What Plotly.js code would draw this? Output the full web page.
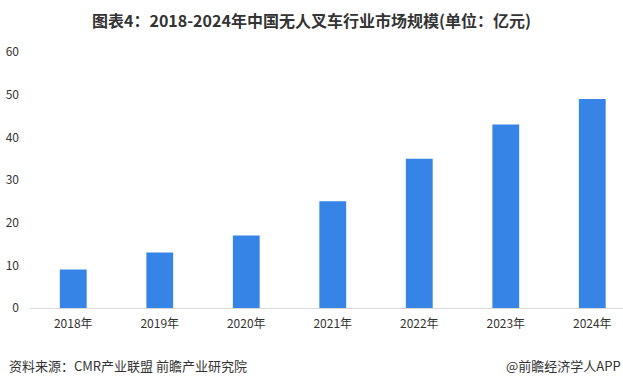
<!DOCTYPE html>
<html>
<head>
<meta charset="utf-8">
<script src="https://cdn.plot.ly/plotly-3.0.1.min.js"></script>
<style>html,body{margin:0;padding:0;background:#fff;}#chart{width:623px;height:386px;}</style>
</head>
<body>
<div id="chart"></div>
<script>
var categories = ["2018年", "2019年", "2020年", "2021年", "2022年", "2023年", "2024年"];
var marketSize = [9, 13, 17, 25, 35, 43, 49];
var yTicks = [0, 10, 20, 30, 40, 50, 60];

var FONT = '"Noto Sans CJK SC", "Microsoft YaHei", sans-serif';

var trace = {
  type: 'bar',
  x: categories,
  y: marketSize,
  marker: {color: '#3584E6'},
  hoverinfo: 'none'
};

var layout = {
  width: 623,
  height: 386,
  margin: {l: 30, r: 0, t: 52, b: 78},
  paper_bgcolor: '#ffffff',
  plot_bgcolor: '#ffffff',
  showlegend: false,
  bargap: 0.69,
  title: {
    text: '<b>图表4：2018-2024年中国无人叉车行业市场规模(单位：亿元)</b>',
    font: {family: FONT, size: 16, color: '#333333'},
    x: 311.5/623, xanchor: 'center', xref: 'container',
    y: 1 - 21/386, yanchor: 'middle', yref: 'container'
  },
  xaxis: {
    type: 'category',
    range: [-0.5, 6.355],
    showline: true, linecolor: '#d9d9d9', linewidth: 1,
    showgrid: false, zeroline: false, ticks: '',
    tickfont: {family: FONT, size: 12, color: '#333333'},
    ticklabelstandoff: 5,
    fixedrange: true
  },
  yaxis: {
    range: [0, 60],
    tickvals: yTicks,
    ticktext: yTicks.map(String),
    showgrid: false, zeroline: false, showline: false, ticks: '',
    tickfont: {family: FONT, size: 12, color: '#333333'},
    ticklabelstandoff: 10,
    fixedrange: true
  },
  annotations: [
    {
      text: '资料来源：CMR产业联盟 前瞻产业研究院',
      xref: 'paper', yref: 'paper', x: -23/593, y: -57.5/256,
      xanchor: 'left', yanchor: 'middle', showarrow: false,
      font: {family: FONT, size: 13, color: '#333333'}
    },
    {
      text: '@前瞻经济学人APP',
      xref: 'paper', yref: 'paper', x: 1, y: -57.5/256,
      xanchor: 'right', yanchor: 'middle', showarrow: false,
      font: {family: FONT, size: 13, color: '#333333'}
    }
  ]
};

Plotly.newPlot('chart', [trace], layout, {displayModeBar: false, staticPlot: true});
</script>
</body>
</html>
